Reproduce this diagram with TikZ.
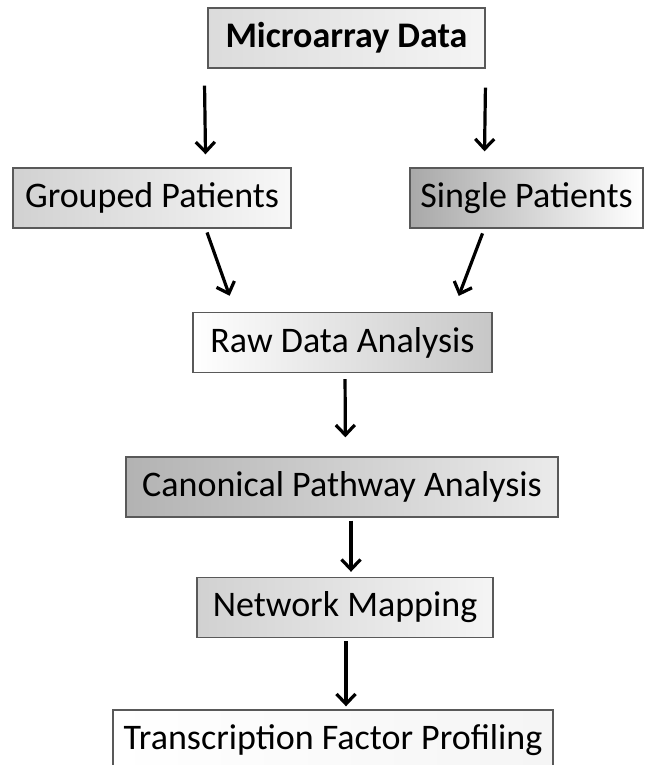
\documentclass[tikz,border=0pt]{standalone}
\usepackage{fontspec}
\setmainfont{Carlito}
\usetikzlibrary{arrows.meta}

\begin{document}
\begin{tikzpicture}[x=1pt,y=-1pt,
    box/.style={draw=black!65, line width=1.4pt, minimum height=60pt, inner sep=0pt,
      font=\fontsize{36}{40}\selectfont},
    arr/.style={line width=3.2pt, -{Straight Barb[length=10pt,width=19pt,line width=3.2pt]}}]
  \clip (0,0) rectangle (645,765);
  % boxes
  \node[box, minimum width=277pt, left color=black!14, right color=black!4,
    font=\fontsize{36}{40}\selectfont\bfseries] (micro) at (346.5,38) {Microarray Data};
  \node[box, minimum width=278pt, left color=black!18, right color=black!3] (grouped) at (152,198) {Grouped Patients};
  \node[box, minimum width=233pt, left color=black!34, right color=white] (single) at (526.5,198) {Single Patients};
  \node[box, minimum width=299pt, left color=white, right color=black!22] (raw) at (342.5,342.5) {Raw Data Analysis};
  \node[box, minimum width=432pt, left color=black!30, right color=black!8] (canon) at (342,487) {Canonical Pathway Analysis};
  \node[box, minimum width=296pt, left color=black!18, right color=black!4] (netmap) at (345,607.5) {Network Mapping};
  \node[box, minimum width=440pt, left color=white, right color=black!4] (tfp) at (333,740) {Transcription Factor Profiling};
  % arrows
  \draw[arr, shorten <=17pt, shorten >=13pt] ([xshift=-3pt]micro.south west) -- ([xshift=-86pt]grouped.north east);
  \draw[arr, shorten <=19pt, shorten >=16pt] (micro.south east) -- ([xshift=75pt]single.north west);
  \draw[arr, shorten <=4pt, shorten >=17pt] ([xshift=-86pt]grouped.south east) -- ([xshift=43pt]raw.north west);
  \draw[arr, shorten <=5pt, shorten >=17pt] ([xshift=75pt]single.south west) -- ([xshift=-40pt]raw.north east);
  \draw[arr, shorten <=6pt, shorten >=19pt] ([xshift=2.5pt]raw.south) -- ([xshift=3.5pt]canon.north);
  \draw[arr, shorten <=3pt, shorten >=5pt] ([xshift=9pt]canon.south) -- ([xshift=6pt]netmap.north);
  \draw[arr, shorten <=3pt, shorten >=3pt] ([xshift=1pt]netmap.south) -- ([xshift=13pt]tfp.north);
\end{tikzpicture}
\end{document}
